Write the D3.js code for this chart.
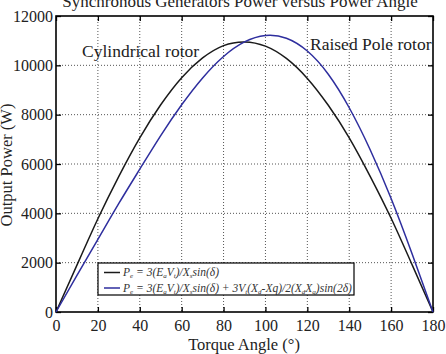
<!DOCTYPE html>
<html>
<head>
<meta charset="utf-8">
<script src="https://cdn.jsdelivr.net/npm/d3@7"></script>
<style>
  body { margin: 0; background: #fff; }
  svg { display: block; }
  svg text { font-family: "Liberation Serif", "Times New Roman", "DejaVu Serif", serif; }
</style>
</head>
<body>
<svg id="chart" width="446" height="354"></svg>
<script>
// Power angle curves, values every 10 degrees
var angles = [0, 10, 20, 30, 40, 50, 60, 70, 80, 90, 100, 110, 120, 130, 140, 150, 160, 170, 180];
var cylindrical = [0, 1900, 3780, 5500, 7060, 8400, 9500, 10300, 10800, 10950, 10780, 10280, 9470, 8380, 7060, 5500, 3800, 1920, 0];
var raisedPole = [0, 1480, 2940, 4400, 5790, 7150, 8400, 9490, 10360, 10950, 11210, 11100, 10580, 9640, 8280, 6580, 4600, 2360, 0];
var xTicks = [0, 20, 40, 60, 80, 100, 120, 140, 160, 180];
var yTicks = [0, 2000, 4000, 6000, 8000, 10000, 12000];

var serif = '"Liberation Serif", "Times New Roman", serif';
var svg = d3.select('#chart');
// plot box (window.top is reserved, so prefix the names)
var pLeft = 56, pRight = 433, pTop = 16, pBottom = 312;

var x = d3.scaleLinear().domain([0, 180]).range([pLeft, pRight]);
var y = d3.scaleLinear().domain([0, 12000]).range([pBottom, pTop]);

// dotted grid
var grid = svg.append('g').attr('class', 'grid');
grid.selectAll('line.v')
    .data(xTicks.slice(1, -1))
    .enter().append('line')
    .attr('class', 'v')
    .attr('x1', function(d) { return x(d); })
    .attr('x2', function(d) { return x(d); })
    .attr('y1', pTop).attr('y2', pBottom);
grid.selectAll('line.h')
    .data(yTicks.slice(1, -1))
    .enter().append('line')
    .attr('class', 'h')
    .attr('y1', function(d) { return y(d); })
    .attr('y2', function(d) { return y(d); })
    .attr('x1', pLeft).attr('x2', pRight);
grid.selectAll('line')
    .attr('stroke', '#555')
    .attr('stroke-width', 1)
    .attr('stroke-dasharray', '1,2');

// axes, MATLAB style: ticks pointing inwards on all four sides
function styleAxis(g) {
    g.attr('font-family', serif);
    g.select('.domain').remove();
    g.selectAll('line').attr('stroke', '#000').attr('stroke-width', 1.3);
    g.selectAll('text')
        .attr('fill', '#222')
        .attr('font-family', serif)
        .style('font-size', '16px');
}

svg.append('g')
    .attr('transform', 'translate(0,' + pBottom + ')')
    .call(d3.axisBottom(x).tickValues(xTicks).tickSize(-5).tickPadding(8).tickFormat(d3.format('d')))
    .call(styleAxis);
svg.append('g')
    .attr('transform', 'translate(0,' + pTop + ')')
    .call(d3.axisTop(x).tickValues(xTicks).tickSize(-5).tickFormat(''))
    .call(styleAxis);
svg.append('g')
    .attr('transform', 'translate(' + pLeft + ',0)')
    .call(d3.axisLeft(y).tickValues(yTicks).tickSize(-5).tickPadding(3).tickFormat(d3.format('d')))
    .call(styleAxis);
svg.append('g')
    .attr('transform', 'translate(' + pRight + ',0)')
    .call(d3.axisRight(y).tickValues(yTicks).tickSize(-5).tickFormat(''))
    .call(styleAxis);

// frame
svg.append('rect')
    .attr('x', pLeft).attr('y', pTop)
    .attr('width', pRight - pLeft).attr('height', pBottom - pTop)
    .attr('fill', 'none')
    .attr('stroke', '#000')
    .attr('stroke-width', 1.6);

// curves
var line = d3.line()
    .x(function(d, i) { return x(angles[i]); })
    .y(function(d) { return y(d); })
    .curve(d3.curveNatural);

svg.append('path')
    .datum(cylindrical)
    .attr('d', line)
    .attr('fill', 'none')
    .attr('stroke', '#1a1a1a')
    .attr('stroke-width', 1.5);
svg.append('path')
    .datum(raisedPole)
    .attr('d', line)
    .attr('fill', 'none')
    .attr('stroke', '#2e2e9e')
    .attr('stroke-width', 1.5);

function label(xp, yp, txt, size, anchor) {
    return svg.append('text')
        .attr('x', xp).attr('y', yp)
        .attr('text-anchor', anchor || 'start')
        .attr('font-family', serif)
        .style('font-size', size)
        .attr('fill', '#222')
        .text(txt);
}

// annotations
label(82, 57, 'Cylindrical rotor', '17.5px');
label(310, 50, 'Raised Pole rotor', '17.5px');

// title (clipped at top like the original)
label(240, 7, 'Synchronous Generators Power versus Power Angle', '17px', 'middle');

// axis titles
label(244, 350, 'Torque Angle (\u00b0)', '16.5px', 'middle');
label(0, 0, 'Output Power (W)', '16.5px', 'middle')
    .attr('transform', 'translate(12,165) rotate(-90)');

// legend
var legend = svg.append('g');
legend.append('rect')
    .attr('x', 98).attr('y', 263)
    .attr('width', 256).attr('height', 32)
    .attr('fill', '#fff')
    .attr('stroke', '#000')
    .attr('stroke-width', 1.2);

var entries = [
    { color: '#1a1a1a', parts: [['P', ''], ['e', 'sub'], [' = 3(E', ''], ['a', 'sub'], ['V', ''], ['t', 'sub'], [')/X', ''], ['s', 'sub'], ['sin(\u03b4)', '']] },
    { color: '#2e2e9e', parts: [['P', ''], ['e', 'sub'], [' = 3(E', ''], ['a', 'sub'], ['V', ''], ['t', 'sub'], [')/X', ''], ['s', 'sub'], ['sin(\u03b4) + 3V', ''], ['t', 'sub'], ['(X', ''], ['d', 'sub'], ['-Xq)/2(X', ''], ['d', 'sub'], ['X', ''], ['q', 'sub'], [')sin(2\u03b4)', '']] }
];
entries.forEach(function(e, i) {
    var ly = 272.5 + i * 15.5;
    legend.append('line')
        .attr('x1', 104).attr('x2', 120)
        .attr('y1', ly).attr('y2', ly)
        .attr('stroke', e.color)
        .attr('stroke-width', 1.5);
    var t = legend.append('text')
        .attr('x', 123).attr('y', ly + 3.5)
        .attr('font-family', serif)
        .style('font-size', '11.5px')
        .style('font-style', 'italic')
        .attr('fill', '#333');
    var wasSub = false;
    e.parts.forEach(function(p) {
        var sub = p[1] === 'sub';
        var ts = t.append('tspan').text(p[0]);
        if (sub) ts.style('font-size', '7px');
        if (sub && !wasSub) ts.attr('dy', 2);
        if (!sub && wasSub) ts.attr('dy', -2);
        wasSub = sub;
    });
});
</script>
</body>
</html>
